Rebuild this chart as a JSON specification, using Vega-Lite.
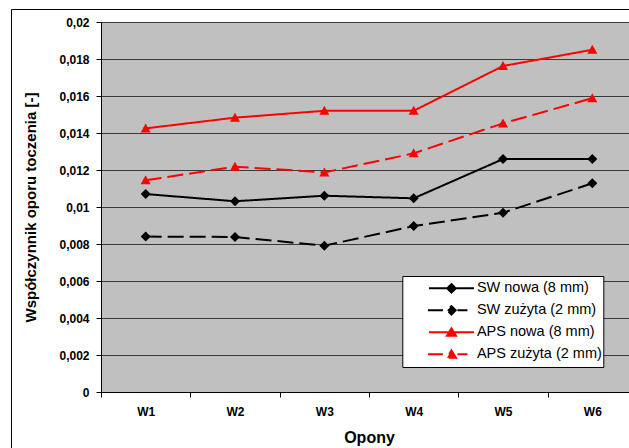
{
  "$schema": "https://vega.github.io/schema/vega-lite/v6.json",
  "autosize": {"type": "none"},
  "padding": {"left": 101, "top": 22, "right": 0, "bottom": 56},
  "width": 528,
  "height": 370,
  "background": "white",
  "config": {
    "font": "Liberation Sans",
    "view": {"fill": "#C0C0C0", "stroke": null},
    "axis": {"labelFont": "Liberation Sans", "titleFont": "Liberation Sans", "labelColor": "black", "titleColor": "black"}
  },
  "data": {"values": [
    {"opona": "W1", "series": "SW nowa (8 mm)", "value": 0.0107},
    {"opona": "W2", "series": "SW nowa (8 mm)", "value": 0.01031},
    {"opona": "W3", "series": "SW nowa (8 mm)", "value": 0.01061},
    {"opona": "W4", "series": "SW nowa (8 mm)", "value": 0.01047},
    {"opona": "W5", "series": "SW nowa (8 mm)", "value": 0.01259},
    {"opona": "W6", "series": "SW nowa (8 mm)", "value": 0.01259},
    {"opona": "W1", "series": "SW zużyta (2 mm)", "value": 0.0084},
    {"opona": "W2", "series": "SW zużyta (2 mm)", "value": 0.00838},
    {"opona": "W3", "series": "SW zużyta (2 mm)", "value": 0.00791},
    {"opona": "W4", "series": "SW zużyta (2 mm)", "value": 0.00897},
    {"opona": "W5", "series": "SW zużyta (2 mm)", "value": 0.00969},
    {"opona": "W6", "series": "SW zużyta (2 mm)", "value": 0.01128},
    {"opona": "W1", "series": "APS nowa (8 mm)", "value": 0.01425},
    {"opona": "W2", "series": "APS nowa (8 mm)", "value": 0.01483},
    {"opona": "W3", "series": "APS nowa (8 mm)", "value": 0.0152},
    {"opona": "W4", "series": "APS nowa (8 mm)", "value": 0.0152},
    {"opona": "W5", "series": "APS nowa (8 mm)", "value": 0.01762},
    {"opona": "W6", "series": "APS nowa (8 mm)", "value": 0.0185},
    {"opona": "W1", "series": "APS zużyta (2 mm)", "value": 0.01144},
    {"opona": "W2", "series": "APS zużyta (2 mm)", "value": 0.01218},
    {"opona": "W3", "series": "APS zużyta (2 mm)", "value": 0.01187},
    {"opona": "W4", "series": "APS zużyta (2 mm)", "value": 0.0129},
    {"opona": "W5", "series": "APS zużyta (2 mm)", "value": 0.01452},
    {"opona": "W6", "series": "APS zużyta (2 mm)", "value": 0.01588}
  ]},
  "resolve": {"scale": {"x": "independent", "y": "independent"}, "axis": {"x": "independent", "y": "independent"}},
  "layer": [
    {
      "encoding": {
        "x": {
          "field": "opona", "type": "nominal", "bandPosition": 0.5,
          "scale": {"type": "band", "paddingInner": 0, "paddingOuter": 0, "range": [0, 536]},
          "axis": {
            "orient": "bottom", "title": "Opony", "labelAngle": 0, "tickBand": "extent", "tickSize": 5, "tickColor": "black",
            "domainColor": "black", "labelFontSize": 12, "labelFontWeight": "bold", "labelPadding": 9,
            "titleFontSize": 16, "titleFontWeight": "bold", "titlePadding": 12, "grid": false
          }
        },
        "y": {
          "field": "value", "type": "quantitative",
          "scale": {"domain": [0, 0.02], "nice": false, "zero": true},
          "axis": {
            "orient": "left", "title": "Współczynnik oporu toczenia [-]",
            "values": [0, 0.002, 0.004, 0.006, 0.008, 0.01, 0.012, 0.014, 0.016, 0.018, 0.02],
            "labelExpr": "replace(format(datum.value, '.3~f'), '.', ',')",
            "tickSize": 5, "tickColor": "black", "domainColor": "black",
            "labelFontSize": 12, "labelFontWeight": "bold", "labelPadding": 7,
            "titleFontSize": 15, "titleFontWeight": "bold", "titlePadding": 20,
            "grid": true, "gridColor": "#3a3a3a", "gridWidth": 1
          }
        }
      },
      "layer": [
        {
          "mark": {"type": "point", "filled": true, "size": 1, "opacity": 1, "strokeWidth": 2},
          "encoding": {
            "fill": {"field": "series", "type": "nominal",
              "scale": {"domain": ["SW nowa (8 mm)", "SW zużyta (2 mm)", "APS nowa (8 mm)", "APS zużyta (2 mm)"], "range": ["#000000", "#000000", "#FF0000", "#FF0000"]},
              "legend": {
                "title": null, "orient": "none", "legendX": 301.3, "legendY": 254,
                "padding": 1.5, "fillColor": "white", "strokeColor": "black",
                "symbolSize": 100, "symbolStrokeWidth": 2,
                "symbolOffset": 40.4, "labelOffset": 18.2, "clipHeight": 21.7, "rowPadding": 0,
                "labelFont": "Liberation Sans", "labelFontSize": 14.5, "labelColor": "black", "labelLimit": 400,
                "labelExpr": "datum.label + '\u00a0\u00a0\u00a0\u00a0\u00a0\u00a0\u00a0\u00a0\u00a0'"
              }},
            "stroke": {"field": "series", "type": "nominal",
              "scale": {"domain": ["SW nowa (8 mm)", "SW zużyta (2 mm)", "APS nowa (8 mm)", "APS zużyta (2 mm)"], "range": ["#000000", "#000000", "#FF0000", "#FF0000"]},
              "legend": {
                "title": null, "orient": "none", "legendX": 301.3, "legendY": 254,
                "padding": 1.5, "fillColor": "white", "strokeColor": "black",
                "symbolSize": 100, "symbolStrokeWidth": 2,
                "symbolOffset": 40.4, "labelOffset": 18.2, "clipHeight": 21.7, "rowPadding": 0,
                "labelFont": "Liberation Sans", "labelFontSize": 14.5, "labelColor": "black", "labelLimit": 400,
                "labelExpr": "datum.label + '\u00a0\u00a0\u00a0\u00a0\u00a0\u00a0\u00a0\u00a0\u00a0'"
              }},
            "shape": {"field": "series", "type": "nominal",
              "scale": {"domain": ["SW nowa (8 mm)", "SW zużyta (2 mm)", "APS nowa (8 mm)", "APS zużyta (2 mm)"],
                "range": [
                  "M-4.5,0L4.5,0M0,-0.85L0.85,0L0,0.85L-0.85,0Z",
                  "M-4.7,0L-1.7,0M1.2,0L3.2,0M0,-0.85L0.85,0L0,0.85L-0.85,0Z",
                  "M-4.5,0L4.5,0M0,-0.8L0.9,0.7L-0.9,0.7Z",
                  "M-4.7,0L-1.7,0M1.2,0L3.2,0M0,-0.8L0.9,0.7L-0.9,0.7Z"
                ]},
              "legend": {
                "title": null, "orient": "none", "legendX": 301.3, "legendY": 254,
                "padding": 1.5, "fillColor": "white", "strokeColor": "black",
                "symbolSize": 100, "symbolStrokeWidth": 2,
                "symbolOffset": 40.4, "labelOffset": 18.2, "clipHeight": 21.7, "rowPadding": 0,
                "labelFont": "Liberation Sans", "labelFontSize": 14.5, "labelColor": "black", "labelLimit": 400,
                "labelExpr": "datum.label + '\u00a0\u00a0\u00a0\u00a0\u00a0\u00a0\u00a0\u00a0\u00a0'"
              }}
          }
        },
        {
          "mark": {"type": "line", "strokeWidth": 2},
          "encoding": {
            "color": {"field": "series", "type": "nominal", "legend": null,
              "scale": {"domain": ["SW nowa (8 mm)", "SW zużyta (2 mm)", "APS nowa (8 mm)", "APS zużyta (2 mm)"], "range": ["#000000", "#000000", "#FF0000", "#FF0000"]}},
            "strokeDash": {"field": "series", "type": "nominal", "legend": null,
              "scale": {"domain": ["SW nowa (8 mm)", "SW zużyta (2 mm)", "APS nowa (8 mm)", "APS zużyta (2 mm)"], "range": [[1, 0], [16, 6], [1, 0], [16, 6]]}}
          }
        },
        {
          "transform": [{"filter": {"field": "series", "oneOf": ["SW nowa (8 mm)", "SW zużyta (2 mm)"]}}],
          "mark": {"type": "point", "filled": true, "size": 100, "opacity": 1, "shape": "M0,-1L1,0L0,1L-1,0Z"},
          "encoding": {"color": {"field": "series", "type": "nominal", "legend": null}}
        },
        {
          "transform": [{"filter": {"field": "series", "oneOf": ["APS nowa (8 mm)", "APS zużyta (2 mm)"]}}],
          "mark": {"type": "point", "filled": true, "size": 100, "opacity": 1, "shape": "M0,-1L1,0.8L-1,0.8Z"},
          "encoding": {"color": {"field": "series", "type": "nominal", "legend": null}}
        }
      ]
    },
    {
      "mark": {"type": "point", "opacity": 0},
      "encoding": {
        "x": {"field": "opona", "type": "nominal",
          "scale": {"type": "band", "paddingInner": 0, "paddingOuter": 0, "range": [-90, 560]},
          "axis": {"orient": "top", "offset": 13, "title": null, "labels": false, "ticks": false, "grid": false, "domainColor": "black", "domainWidth": 1}},
        "y": {"field": "value", "type": "quantitative",
          "scale": {"domain": [0, 0.02], "nice": false, "range": [440, -13]},
          "axis": {"orient": "left", "offset": 90, "title": null, "labels": false, "ticks": false, "grid": false, "domainColor": "black", "domainWidth": 1}}
      }
    }
  ]
}
